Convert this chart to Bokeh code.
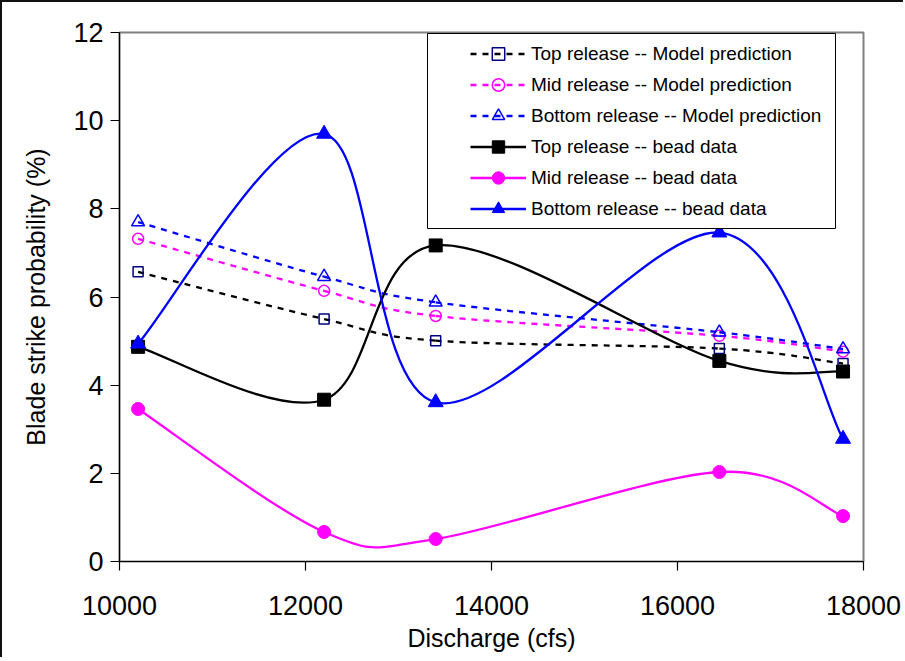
from bokeh.plotting import figure
from bokeh.models import (FixedTicker, Legend, LegendItem, BoxAnnotation)
from bokeh.embed import file_html
from bokeh.resources import INLINE

# ---- data ----
discharge = [10200, 12200, 13400, 16450, 17780]
top_model = [6.57, 5.50, 5.01, 4.83, 4.49]
mid_model = [7.32, 6.14, 5.57, 5.12, 4.76]
bot_model = [7.70, 6.46, 5.88, 5.20, 4.82]
top_bead = [4.87, 3.67, 7.17, 4.55, 4.31]
mid_bead = [3.46, 0.67, 0.51, 2.03, 1.03]
bot_bead = [4.94, 9.70, 3.61, 7.46, 2.78]

x_ticks = [10000, 12000, 14000, 16000, 18000]
y_ticks = [0, 2, 4, 6, 8, 10, 12]

labels = ["Top release -- Model prediction",
          "Mid release -- Model prediction",
          "Bottom release -- Model prediction",
          "Top release -- bead data",
          "Mid release -- bead data",
          "Bottom release -- bead data"]

FONT = "Liberation Sans"
BLACK, NAVY, MAGENTA, BLUE = "#000000", "#000080", "#FF00FF", "#0000FF"
NAN = float("nan")


def smooth_segments(xs, ys):
    """Excel-style smoothed line: cubic Bezier control points (Catmull-Rom, 1/6)."""
    n = len(xs)
    out = dict(x0=[], y0=[], x1=[], y1=[], cx0=[], cy0=[], cx1=[], cy1=[])
    for i in range(n - 1):
        ip = i - 1 if i > 0 else i
        inn = i + 2 if i + 2 < n else i + 1
        out["x0"].append(xs[i]); out["y0"].append(ys[i])
        out["x1"].append(xs[i + 1]); out["y1"].append(ys[i + 1])
        out["cx0"].append(xs[i] + (xs[i + 1] - xs[ip]) / 6.0)
        out["cy0"].append(ys[i] + (ys[i + 1] - ys[ip]) / 6.0)
        out["cx1"].append(xs[i + 1] - (xs[inn] - xs[i]) / 6.0)
        out["cy1"].append(ys[i + 1] - (ys[inn] - ys[i]) / 6.0)
    return out


p = figure(frame_width=744, frame_height=529,
           x_range=(10000, 18000), y_range=(0, 12),
           output_backend="svg", toolbar_location=None,
           min_border_left=117, min_border_right=40,
           min_border_top=30, min_border_bottom=96)
p.styles = {"border-left": "2px solid #111111", "border-top": "2px solid #111111"}
p.background_fill_color = "white"
p.border_fill_color = "white"
p.xgrid.visible = False
p.ygrid.visible = False
p.outline_line_color = "#808080"
p.outline_line_width = 2

p.xaxis.ticker = FixedTicker(ticks=x_ticks)
p.yaxis.ticker = FixedTicker(ticks=y_ticks)
for ax in (p.xaxis[0], p.yaxis[0]):
    ax.axis_line_color = BLACK
    ax.axis_line_width = 1.2
    ax.major_tick_line_color = BLACK
    ax.major_tick_line_width = 1.2
    ax.major_tick_in = 0
    ax.major_tick_out = 9
    ax.minor_tick_line_color = None
    ax.major_label_text_font = FONT
    ax.major_label_text_font_size = "27px"
    ax.major_label_text_color = BLACK
    ax.axis_label_text_font = FONT
    ax.axis_label_text_font_size = "25px"
    ax.axis_label_text_font_style = "normal"
    ax.axis_label_text_color = BLACK
p.xaxis.axis_label = "Discharge (cfs)"
p.yaxis.axis_label = "Blade strike probability (%)"
p.xaxis.major_label_standoff = 25
p.xaxis.axis_label_standoff = 6
p.yaxis.major_label_standoff = 7
p.yaxis.axis_label_standoff = 20

series = [
    (top_model, BLACK, "6 6", "square", 10, NAVY, None),
    (mid_model, MAGENTA, "6 6", "circle", 11, MAGENTA, None),
    (bot_model, BLUE, "6 6", "triangle", 13, BLUE, None),
    (top_bead, BLACK, "solid", "square", 13, BLACK, BLACK),
    (mid_bead, MAGENTA, "solid", "circle", 13, MAGENTA, MAGENTA),
    (bot_bead, BLUE, "solid", "triangle", 15, BLUE, BLUE),
]

items = []
for (ys, lc, dash, marker, size, mc, fc), lab in zip(series, labels):
    seg = smooth_segments(discharge, ys)
    p.bezier(x0=seg["x0"], y0=seg["y0"], x1=seg["x1"], y1=seg["y1"],
             cx0=seg["cx0"], cy0=seg["cy0"], cx1=seg["cx1"], cy1=seg["cy1"],
             line_color=lc, line_width=2.3, line_dash=dash)
    # legend-only line sample (no visible data point)
    leg_line = p.line(x=[NAN], y=[NAN], line_color=lc, line_width=2.3, line_dash=dash)
    if fc is None:
        sc = p.scatter(discharge, ys, marker=marker, size=size,
                       fill_alpha=0, line_color=mc, line_width=1.5)
    else:
        sc = p.scatter(discharge, ys, marker=marker, size=size,
                       fill_color=fc, line_color=mc, line_width=1)
    items.append(LegendItem(label=lab, renderers=[leg_line, sc]))

box = BoxAnnotation(left=308, right=716, top=528, bottom=333,
                    left_units="screen", right_units="screen",
                    top_units="screen", bottom_units="screen",
                    fill_color="white", fill_alpha=1.0,
                    line_color=BLACK, line_alpha=1.0, line_width=1)
p.add_layout(box)

legend = Legend(items=items, location=(347, 333), padding=4, spacing=0,
                margin=0, glyph_width=56, glyph_height=31, label_height=31,
                label_standoff=5, label_text_font=FONT,
                label_text_font_size="19px", label_text_color=BLACK,
                border_line_alpha=0, background_fill_alpha=0)
p.add_layout(legend)

open("out.html", "w").write(file_html(p, INLINE))
